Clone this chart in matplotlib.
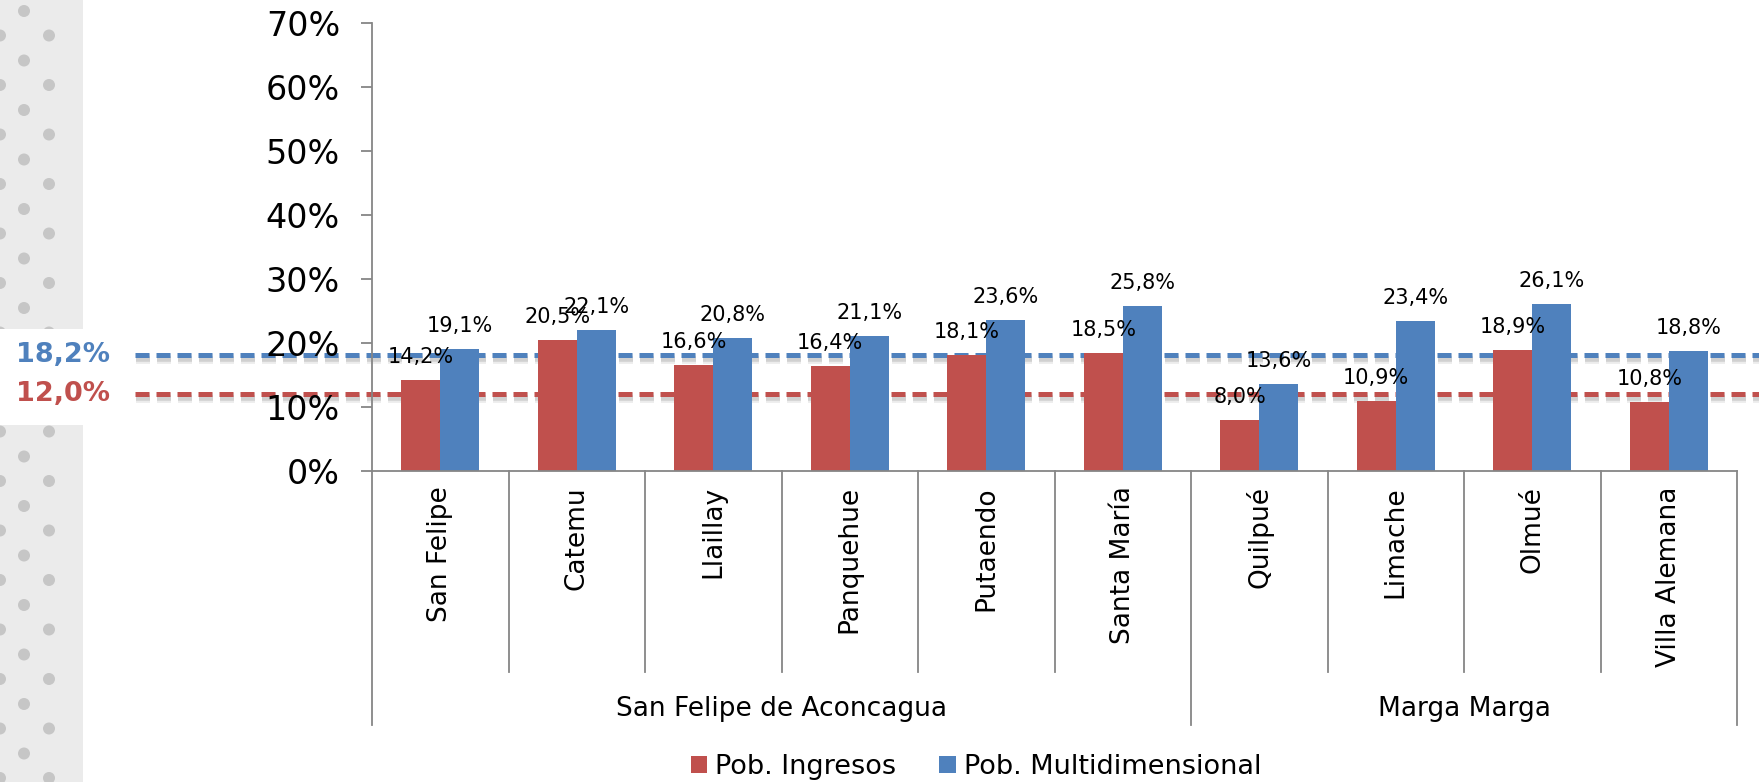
import matplotlib
matplotlib.use("Agg")
import matplotlib.pyplot as plt
import matplotlib.patheffects as pe
import matplotlib.transforms as mtransforms
from matplotlib.patches import Rectangle, Circle
from matplotlib.ticker import FuncFormatter
import numpy as np

comunas = ["San Felipe", "Catemu", "Llaillay", "Panquehue", "Putaendo", "Santa María",
           "Quilpué", "Limache", "Olmué", "Villa Alemana"]
provincias = ["San Felipe de Aconcagua", "Marga Marga"]
n_por_provincia = [6, 4]
pob_ingresos = [14.2, 20.5, 16.6, 16.4, 18.1, 18.5, 8.0, 10.9, 18.9, 10.8]
pob_multi = [19.1, 22.1, 20.8, 21.1, 23.6, 25.8, 13.6, 23.4, 26.1, 18.8]
prom_multi = 18.2
prom_ingresos = 12.0

RED = "#C0504D"
BLUE = "#4F81BD"
GRID = "#868686"
W, H = 1759, 782


def pct(v):
    return f"{v:.1f}%".replace(".", ",")


fig = plt.figure(figsize=(W / 100, H / 100), dpi=100)
plt.rcParams["font.family"] = ["DejaVu Sans"]

# decorative left strip (pixel coordinates)
deco = fig.add_axes([0, 0, 1, 1], zorder=0)
deco.set_xlim(0, W)
deco.set_ylim(H, 0)
deco.axis("off")
deco.add_patch(Rectangle((0, 0), 83, H, color="#EBEBEB", lw=0))
for y in np.arange(11, H, 49.5):
    deco.add_patch(Circle((24, y), 6, color="#C6C6C6", lw=0))
for y in np.arange(35.5, H, 49.5):
    for x in (0, 49):
        deco.add_patch(Circle((x, y), 6, color="#C6C6C6", lw=0))
deco.add_patch(Rectangle((0, 329), 90, 96, color="white", lw=0))

ax = fig.add_axes([372 / W, (H - 471) / H, (1737 - 372) / W, 448 / H], zorder=2)
ax.patch.set_alpha(0)
x = np.arange(len(comunas))
bw = 0.285
ax.bar(x - bw / 2, [v / 100 for v in pob_ingresos], bw, color=RED, label="Pob. Ingresos", zorder=2)
ax.bar(x + bw / 2, [v / 100 for v in pob_multi], bw, color=BLUE, label="Pob. Multidimensional", zorder=2)

for xi, v in zip(x, pob_ingresos):
    ax.annotate(pct(v), (xi - bw / 2, v / 100), xytext=(0, 16.5), textcoords="offset points",
                ha="center", va="center", fontsize=15, zorder=5)
for xi, v in zip(x, pob_multi):
    ax.annotate(pct(v), (xi + bw / 2, v / 100), xytext=(0, 16.5), textcoords="offset points",
                ha="center", va="center", fontsize=15, zorder=5)

ax.set_xlim(-0.5, len(comunas) - 0.5)
ax.set_ylim(0, 0.7)
ax.set_yticks(np.arange(0, 0.71, 0.1))
ax.yaxis.set_major_formatter(FuncFormatter(lambda v, p: f"{v * 100:.0f}%"))
ax.tick_params(axis="y", labelsize=24, length=8, width=1.3, color=GRID, pad=15)
for s in ("top", "right"):
    ax.spines[s].set_visible(False)
for s in ("left", "bottom"):
    ax.spines[s].set_color(GRID)
    ax.spines[s].set_linewidth(1.3)

ax.set_xticks(x)
ax.set_xticklabels(comunas, rotation=90, fontsize=19, va="top", ha="center")
ax.tick_params(axis="x", length=0, pad=11)

# category / group dividers below the axis
xt = ax.get_xaxis_transform()
group_edges = np.concatenate([[0], np.cumsum(n_por_provincia)])
for k in range(len(comunas) + 1):
    bottom = -0.567 if k in group_edges else -0.449
    ax.plot([k - 0.5, k - 0.5], [0, bottom], transform=xt, color=GRID, lw=1.3, clip_on=False)
for name, a, b in zip(provincias, group_edges[:-1], group_edges[1:]):
    ax.text((a + b - 1) / 2, -0.531, name, transform=xt, ha="center", va="center", fontsize=19)

# average lines (behind bars, with a soft shadow)
shadow = [pe.SimpleLineShadow(offset=(0.5, -3), shadow_color="gray", alpha=0.15, linewidth=7),
          pe.SimpleLineShadow(offset=(0.5, -3), shadow_color="gray", alpha=0.25, linewidth=4),
          pe.Normal()]
lbl_tr = mtransforms.blended_transform_factory(fig.transFigure, ax.transData)
for val, col in ((prom_multi, BLUE), (prom_ingresos, RED)):
    ax.axhline(val / 100, xmin=(135 - 372) / 1365, xmax=(W - 372) / 1365, color=col, lw=3.6,
               dashes=(2.8, 1.4), clip_on=False, zorder=1.5, path_effects=shadow)
    ax.text(63 / W, val / 100, pct(val), transform=lbl_tr, ha="center", va="center",
            fontsize=19.5, fontweight="bold", color=col, zorder=7)

fig.legend(loc="center", bbox_to_anchor=(976 / W, 15 / H), ncol=2, frameon=False, fontsize=19.5,
           handlelength=0.6, handleheight=0.6, handletextpad=0.3, columnspacing=1.6)

fig.savefig("out.png", dpi=100)
